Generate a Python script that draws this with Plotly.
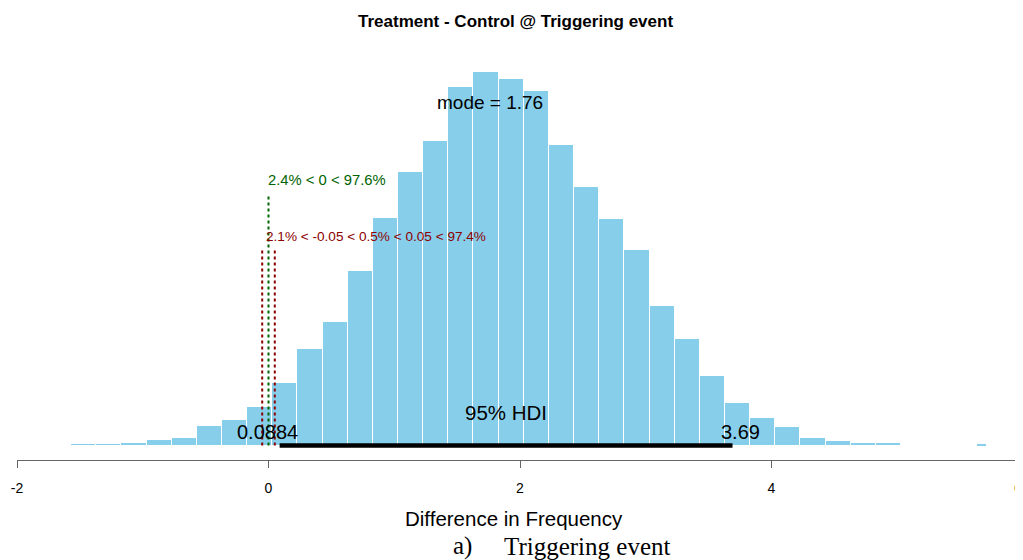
import plotly.graph_objects as go

# ---- data ----
bin_start = -1.57
bin_width = 0.2
counts = [1.3, 1.3, 2.8, 5.5, 7.8, 19.5, 25.5, 38.8, 62.2, 96.5, 123.2, 174.8,
          227.2, 273.2, 304.5, 358.5, 373.8, 366.2, 354.8, 300.5, 258.2, 226.5,
          195.5, 139.5, 106.2, 69.5, 42.2, 27.2, 18.2, 7.8, 4.5, 2.8, 2.8]
outlier_x = [5.67]
outlier_count = [1.2]

hdi_low, hdi_high = 0.0884, 3.69
mode_val = 1.76
comp_val = 0.0
rope = [-0.05, 0.05]
comp_text = "2.4% < 0 < 97.6%"
rope_text = "2.1% < -0.05 < 0.5% < 0.05 < 97.4%"
title_text = "Treatment - Control @ Triggering event"
xlabel = "Difference in Frequency"
tick_vals = [-2, 0, 2, 4, 6]

centers = [bin_start + bin_width * (i + 0.5) for i in range(len(counts))]

SKY = "#87CEEB"
GREEN = "#006400"
DRED = "#8B0000"
FONT = "Liberation Sans, Arial, sans-serif"
SERIF = "Liberation Serif, Times New Roman, serif"

# the page body has an 8px margin: figure is offset by (8, 8)
OFF = 8
W, H = 1023 - OFF, 560 - OFF
PL, PR = 17 - OFF, 1023 - OFF   # plot area left/right (figure px)
PT, PB = 50 - OFF, 460 - OFF    # plot area top/bottom (figure px)

fig = go.Figure()
fig.add_trace(go.Bar(x=centers, y=counts, width=bin_width,
                     marker=dict(color=SKY, line=dict(color="white", width=1)),
                     hoverinfo="skip"))
fig.add_trace(go.Bar(x=outlier_x, y=outlier_count, width=0.065,
                     marker=dict(color=SKY, line=dict(color="white", width=0)),
                     hoverinfo="skip"))

# HDI bar
fig.add_trace(go.Scatter(x=[hdi_low, hdi_high], y=[0, 0], mode="lines",
                         line=dict(color="black", width=4.5), hoverinfo="skip"))
# comparison value line
fig.add_trace(go.Scatter(x=[comp_val, comp_val], y=[0, 252], mode="lines",
                         line=dict(color=GREEN, width=2, dash="dot"), hoverinfo="skip"))
# ROPE lines
for r in rope:
    fig.add_trace(go.Scatter(x=[r, r], y=[0, 198], mode="lines",
                             line=dict(color=DRED, width=2, dash="dot"), hoverinfo="skip"))

ann = []
ann.append(dict(x=mode_val, y=343.5, text="mode = " + str(mode_val), showarrow=False,
                font=dict(size=19, color="black", family=FONT), xanchor="center", yanchor="middle"))
ann.append(dict(x=(hdi_low + hdi_high) / 2, y=33.5, text="95% HDI", showarrow=False,
                font=dict(size=20.5, color="black", family=FONT), xanchor="center", yanchor="middle"))
ann.append(dict(x=hdi_low, y=13.5, text="0.0884", showarrow=False, xshift=-12,
                font=dict(size=20, color="black", family=FONT), xanchor="center", yanchor="middle"))
ann.append(dict(x=hdi_high, y=13.5, text="3.69", showarrow=False, xshift=8,
                font=dict(size=20, color="black", family=FONT), xanchor="center", yanchor="middle"))
ann.append(dict(x=comp_val, y=266, text=comp_text, showarrow=False, xshift=-3,
                font=dict(size=14.8, color=GREEN, family=FONT), xanchor="left", yanchor="middle"))
ann.append(dict(x=sum(rope) / 2, y=209.5, text=rope_text, showarrow=False, xshift=-5,
                font=dict(size=13.6, color=DRED, family=FONT), xanchor="left", yanchor="middle"))


def px(xp):
    return (xp - OFF - PL) / float(PR - PL)


def py(yp):
    return (PB - (yp - OFF)) / float(PB - PT)


ann.append(dict(x=px(515), y=py(22), xref="paper", yref="paper", text="<b>" + title_text + "</b>",
                showarrow=False, font=dict(size=17, color="black", family=FONT),
                xanchor="center", yanchor="middle"))
ann.append(dict(x=px(514), y=py(519), xref="paper", yref="paper", text=xlabel,
                showarrow=False, font=dict(size=20.5, color="black", family=FONT),
                xanchor="center", yanchor="middle"))
ann.append(dict(x=px(462), y=py(546), xref="paper", yref="paper", text="a)",
                showarrow=False, font=dict(size=25, color="black", family=SERIF),
                xanchor="center", yanchor="middle"))
ann.append(dict(x=px(587), y=py(546), xref="paper", yref="paper", text="Triggering event",
                showarrow=False, font=dict(size=25, color="black", family=SERIF),
                xanchor="center", yanchor="middle"))
# last tick label sits at the page edge; keep it fully visible
ann.append(dict(x=tick_vals[-1], y=py(488), xref="x", yref="paper", text=str(tick_vals[-1]),
                showarrow=False, font=dict(size=14, color="black", family=FONT),
                xanchor="right", xshift=1, yanchor="middle"))

tick_text = [str(v) for v in tick_vals[:-1]] + [""]

fig.update_layout(
    width=W, height=H,
    margin=dict(l=PL, r=W - PR, t=PT, b=H - PB, pad=0, autoexpand=False),
    paper_bgcolor="white", plot_bgcolor="white",
    showlegend=False, bargap=0,
    annotations=ann,
    xaxis=dict(range=[-2, 6], tickvals=tick_vals, ticktext=tick_text,
               ticks="outside", ticklen=7, tickcolor="#666666", tickwidth=1,
               showline=True, linecolor="#666666", linewidth=1,
               showgrid=False, zeroline=False, ticklabelstandoff=8,
               tickfont=dict(size=14, color="black", family=FONT)),
    yaxis=dict(range=[-14.5, 395.5], visible=False, showgrid=False, zeroline=False),
)

fig.write_html("out.html")
